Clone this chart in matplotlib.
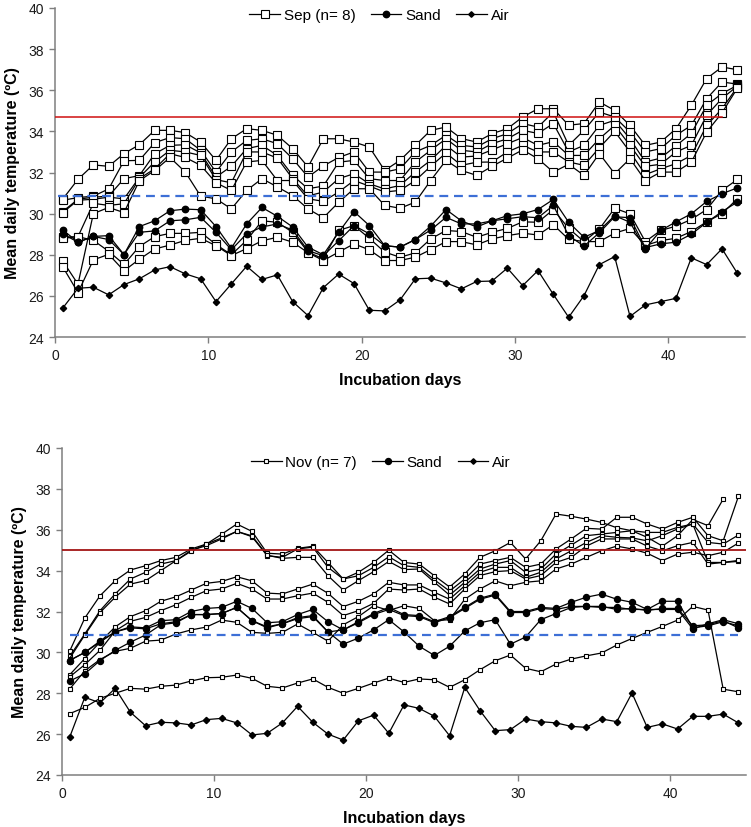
import numpy as np
import matplotlib
matplotlib.use('Agg')
import matplotlib.pyplot as plt
from matplotlib.lines import Line2D

plt.rcParams['font.family'] = ['Liberation Sans', 'DejaVu Sans']

days = np.arange(45) + 0.5

#----------------------------------------------------------------------------------------------------------------------------------
# September clutch (top panel)

sep_nest1 = [30.7, 31.67, 32.37, 32.3, 32.92, 33.35, 34.05, 34.05, 33.94, 33.48, 32.59, 33.64, 34.13, 34.05, 33.81,
             33.16, 32.27, 33.64, 33.64, 33.48, 33.24, 32.1, 32.59, 33.32, 34.05, 34.21, 33.65, 33.48, 33.89, 34.13,
             34.7, 35.1, 35.1, 34.3, 34.38, 35.43, 35.02, 34.29, 33.32, 33.48, 34.13, 35.27, 36.57, 37.13, 37.0]
sep_nest2 = [30.65, 30.78, 30.85, 31.2, 32.57, 32.59, 33.45, 33.7, 33.64, 33.08, 32.02, 33.0, 33.56, 33.64, 33.4,
             32.67, 31.78, 32.32, 32.73, 33.0, 32.02, 32.02, 32.18, 33.0, 33.32, 33.81, 33.32, 33.24, 33.64, 33.89,
             34.38, 34.21, 34.94, 33.32, 34.05, 34.94, 34.7, 33.97, 33.0, 33.16, 33.81, 34.29, 35.59, 36.4, 36.3]
sep_nest3 = [30.1, 30.7, 30.8, 30.85, 31.7, 31.85, 32.91, 33.32, 33.35, 32.95, 31.78, 32.3, 33.16, 33.32, 32.83,
             31.86, 31.21, 31.34, 32.5, 32.59, 31.7, 31.61, 31.61, 32.51, 33.08, 33.64, 33.08, 33.0, 33.4, 33.64,
             34.05, 33.9, 34.38, 33.0, 33.32, 34.29, 34.54, 33.64, 32.51, 32.7, 33.3, 33.9, 35.27, 35.84, 36.24]
sep_nest4 = [30.05, 30.65, 30.7, 30.8, 30.72, 31.76, 32.51, 33.08, 33.0, 32.83, 31.65, 31.5, 33.0, 33.0, 32.7,
             31.7, 30.86, 31.05, 31.7, 31.94, 31.45, 31.2, 31.37, 32.02, 32.59, 33.32, 32.75, 32.8, 33.1, 33.4,
             33.7, 33.32, 33.5, 32.83, 32.83, 33.64, 34.29, 33.32, 32.3, 32.4, 33.0, 33.32, 34.78, 35.6, 36.2]
sep_nest5 = [28.85, 28.88, 30.5, 30.4, 30.48, 31.7, 32.18, 32.91, 32.73, 32.35, 31.5, 31.13, 32.51, 32.59, 31.61,
             31.61, 30.72, 30.6, 31.05, 31.61, 31.34, 31.05, 31.13, 31.61, 32.3, 32.95, 32.35, 32.5, 32.51, 33.0,
             33.32, 33.0, 33.0, 32.51, 32.35, 33.2, 34.0, 33.0, 31.9, 32.18, 32.43, 32.83, 34.29, 35.1, 36.16]
sep_nest6 = [27.7, 26.57, 30.0, 30.3, 30.05, 31.6, 32.1, 32.73, 32.02, 30.85, 30.72, 30.23, 31.13, 31.7, 31.3,
             30.88, 30.23, 29.8, 30.55, 31.21, 31.21, 30.4, 30.26, 30.56, 31.61, 32.59, 32.1, 31.86, 32.3, 32.7,
             33.1, 32.67, 32.02, 32.4, 31.86, 32.92, 31.94, 32.67, 31.61, 32.02, 32.02, 32.5, 33.97, 34.9, 36.1]
sep_nest7 = [28.8, 28.88, 28.7, 28.17, 27.53, 28.4, 28.88, 29.04, 29.04, 29.09, 28.5, 28.0, 28.7, 29.65, 29.58,
             29.09, 28.13, 27.8, 29.18, 29.42, 28.8, 28.13, 27.88, 28.09, 28.77, 29.18, 29.13, 28.85, 29.09, 29.28,
             29.6, 29.58, 30.2, 29.28, 28.64, 29.25, 30.26, 29.99, 28.64, 29.18, 29.39, 29.72, 30.2, 31.13, 31.66]
sep_nest8 = [27.42, 26.16, 27.75, 28.02, 27.22, 27.78, 28.28, 28.47, 28.7, 28.8, 28.44, 27.96, 28.3, 28.68, 28.85,
             28.61, 28.1, 27.72, 28.13, 28.53, 28.24, 27.72, 27.72, 27.88, 28.25, 28.64, 28.64, 28.48, 28.77, 28.93,
             29.05, 28.96, 29.46, 28.75, 28.64, 28.64, 29.05, 29.28, 28.45, 28.69, 28.8, 29.13, 29.6, 30.0, 30.72]

sep_sand1 = [29.21, 28.61, 28.89, 28.93, 28.01, 29.37, 29.65, 30.14, 30.22, 30.19, 29.37, 28.32, 29.5, 30.3, 29.87,
             29.35, 28.37, 28.0, 29.09, 30.1, 29.42, 28.44, 28.37, 28.74, 29.39, 30.2, 29.65, 29.35, 29.65, 29.9,
             29.99, 30.2, 30.69, 29.58, 28.85, 29.18, 29.9, 29.58, 28.28, 29.18, 29.6, 29.99, 30.59, 30.97, 31.25]
sep_sand2 = [29.02, 28.61, 28.89, 28.74, 28.01, 29.09, 29.16, 29.65, 29.7, 29.82, 29.09, 28.24, 29.02, 29.35, 29.5,
             29.2, 28.2, 27.95, 28.68, 29.42, 29.02, 28.44, 28.37, 28.74, 29.2, 29.82, 29.5, 29.5, 29.65, 29.75,
             29.85, 29.8, 30.4, 28.93, 28.42, 29.07, 29.85, 29.8, 28.35, 28.53, 28.61, 29.0, 29.57, 30.1, 30.56]

sep_air = [25.4, 26.37, 26.42, 26.05, 26.55, 26.83, 27.26, 27.42, 27.07, 26.83, 25.72, 26.58, 27.44, 26.8, 27.02,
           25.72, 25.04, 26.4, 27.06, 26.6, 25.3, 25.27, 25.8, 26.83, 26.86, 26.63, 26.34, 26.7, 26.72, 27.35,
           26.5, 27.23, 26.07, 24.96, 26.01, 27.52, 27.91, 25.0, 25.56, 25.72, 25.88, 27.85, 27.52, 28.29, 27.1]

sep_upper = 34.72
sep_lower = 30.88

#----------------------------------------------------------------------------------------------------------------------------------
# November clutch (bottom panel)

nov_nest1 = [30.05, 31.68, 32.77, 33.51, 34.03, 34.24, 34.49, 34.65, 35.06, 35.3, 35.78, 36.28, 35.92, 34.85, 34.81,
             35.09, 35.19, 34.4, 33.59, 33.92, 34.4, 35.0, 34.4, 34.32, 33.75, 33.2, 33.84, 34.65, 34.97, 35.38,
             34.57, 35.46, 36.77, 36.66, 36.52, 36.36, 36.1, 35.95, 35.63, 35.2, 35.71, 36.5, 36.2, 37.5, np.nan]
nov_nest2 = [29.8, 30.9, 32.04, 32.86, 33.59, 33.92, 34.32, 34.49, 35.0, 35.22, 35.55, 35.92, 35.66, 34.73, 34.65,
             35.06, 35.15, 34.16, 33.59, 33.75, 34.16, 34.68, 34.24, 34.16, 33.55, 33.0, 33.59, 34.32, 34.49, 34.65,
             34.16, 34.32, 35.06, 35.55, 36.07, 36.03, 36.61, 36.61, 36.28, 36.03, 36.36, 36.61, 35.71, 35.46, 37.63]
nov_nest3 = [29.7, 30.85, 31.95, 32.7, 33.34, 33.51, 34.0, 34.49, 34.95, 35.3, 35.6, 35.92, 35.7, 34.75, 34.6,
             34.65, 34.65, 33.75, 33.05, 33.51, 33.95, 34.45, 34.05, 34.08, 33.43, 32.8, 33.43, 34.08, 34.32, 34.49,
             33.92, 34.08, 34.81, 35.25, 35.71, 35.79, 35.87, 35.95, 35.87, 35.87, 36.12, 36.28, 35.38, 35.3, 35.74]
nov_nest4 = [28.9, 29.7, 30.5, 31.25, 31.75, 32.04, 32.5, 32.72, 33.05, 33.38, 33.47, 33.7, 33.5, 32.9, 32.86,
             33.1, 33.34, 32.89, 32.24, 32.5, 32.86, 33.43, 33.3, 33.3, 32.94, 32.6, 33.26, 33.92, 34.16, 34.16,
             33.67, 33.92, 34.57, 34.97, 35.38, 35.71, 35.63, 35.6, 35.46, 35.71, 36.04, 36.28, 34.4, 34.4, 34.45]
nov_nest5 = [28.8, 29.4, 30.1, 31.05, 31.52, 31.71, 32.04, 32.33, 32.69, 33.02, 33.1, 33.38, 33.1, 32.61, 32.61,
             32.77, 32.9, 32.45, 31.8, 32.04, 32.4, 33.1, 33.05, 33.1, 32.7, 32.37, 33.1, 33.76, 33.95, 34.0,
             33.59, 33.76, 34.4, 34.65, 35.2, 35.55, 35.55, 35.55, 35.2, 34.97, 35.22, 35.38, 34.32, 34.4, 34.5]
nov_nest6 = [28.2, 29.1, 29.65, 30.05, 30.2, 30.55, 30.6, 30.9, 31.1, 31.24, 31.58, 31.47, 30.98, 30.93, 30.98,
             31.39, 30.98, 30.55, 31.35, 31.75, 32.28, 32.05, 32.28, 32.15, 31.55, 31.6, 32.6, 33.1, 33.5, 33.26,
             33.43, 33.5, 34.08, 34.32, 34.65, 34.97, 35.2, 35.06, 34.85, 34.49, 34.81, 34.9, 34.73, 34.9, 35.35]
nov_nest7 = [27.0, 27.31, 27.75, 28.0, 28.24, 28.2, 28.34, 28.4, 28.6, 28.76, 28.78, 28.89, 28.73, 28.34, 28.26,
             28.5, 28.7, 28.29, 28.0, 28.24, 28.5, 28.74, 28.53, 28.7, 28.66, 28.29, 28.66, 29.15, 29.59, 29.87,
             29.22, 29.05, 29.43, 29.67, 29.83, 29.97, 30.36, 30.68, 30.98, 31.27, 31.58, 32.25, 32.07, 28.2, 28.07]

nov_sand1 = [29.6, 30.0, 30.55, 31.0, 31.25, 31.2, 31.55, 31.6, 32.0, 32.15, 32.2, 32.5, 32.15, 31.45, 31.5,
             31.85, 32.1, 31.5, 31.1, 31.5, 31.9, 32.2, 31.85, 31.8, 31.5, 31.75, 32.2, 32.65, 32.85, 32.0,
             32.0, 32.2, 32.15, 32.45, 32.7, 32.85, 32.6, 32.45, 32.1, 32.5, 32.5, 31.2, 31.3, 31.5, 31.3]
nov_sand2 = [29.6, 30.0, 30.5, 31.0, 31.2, 31.15, 31.4, 31.5, 31.85, 31.85, 31.9, 32.2, 31.55, 31.25, 31.4,
             31.7, 31.8, 31.0, 31.1, 31.45, 31.85, 32.1, 31.8, 31.75, 31.45, 31.7, 32.15, 32.6, 32.8, 31.95,
             31.95, 32.15, 32.1, 32.25, 32.25, 32.25, 32.1, 32.15, 32.05, 32.15, 32.15, 31.3, 31.35, 31.55, 31.2]
nov_sand3 = [28.6, 28.95, 29.6, 30.1, 30.5, 30.85, 31.35, 31.45, 31.85, 31.85, 31.9, 32.2, 31.55, 31.2, 31.4,
             31.65, 31.75, 31.0, 30.4, 30.7, 31.1, 31.6, 31.0, 30.3, 29.85, 30.3, 31.05, 31.45, 31.6, 30.4,
             30.75, 31.6, 31.9, 32.2, 32.25, 32.2, 32.2, 32.1, 32.1, 32.1, 32.1, 31.15, 31.4, 31.6, 31.4]

nov_air = [25.84, 27.8, 27.53, 28.24, 27.07, 26.41, 26.58, 26.55, 26.45, 26.71, 26.77, 26.55, 25.96, 26.04, 26.55,
           27.36, 26.58, 26.0, 25.71, 26.65, 26.93, 26.04, 27.43, 27.26, 26.87, 25.92, 28.29, 27.15, 26.17, 26.22,
           26.74, 26.61, 26.55, 26.38, 26.33, 26.74, 26.61, 28.01, 26.33, 26.5, 26.25, 26.87, 26.87, 26.98, 26.55]

nov_upper = 35.0
nov_lower = 30.86

#----------------------------------------------------------------------------------------------------------------------------------

def draw_panel(ax, nests, sands, air, sq_ms, dot_ms, dia_ms, legend_label, legend_anchor):
    """Draws the nest, sand and air temperature series of one clutch"""
    for nest in nests:
        ax.plot(days, nest, color='black', lw=0.9, marker='s', ms=sq_ms, mfc='white', mec='black', mew=0.8, zorder=3)
    for sand in sands:
        ax.plot(days, sand, color='black', lw=0.9, marker='o', ms=dot_ms, mfc='black', mec='black', zorder=4)
    ax.plot(days, air, color='black', lw=0.9, marker='D', ms=dia_ms, mfc='black', mec='black', zorder=4)

    ax.set_xlim(0, 45)
    ax.set_ylim(24, 40)
    ax.set_xticks([0, 10, 20, 30, 40])
    ax.set_yticks(np.arange(24, 41, 2))
    for side in ['top', 'right']:
        ax.spines[side].set_visible(False)
    for side in ['left', 'bottom']:
        ax.spines[side].set_color('#7f7f7f')
        ax.spines[side].set_linewidth(1.1)
    ax.tick_params(direction='out', length=4, width=1.0, color='#7f7f7f', labelsize=10, labelcolor='#1a1a1a', pad=4)
    ax.set_xlabel('Incubation days', fontsize=11.5, fontweight='bold', labelpad=7)
    ax.set_ylabel('Mean daily temperature (ºC)', fontsize=11.5, fontweight='bold', labelpad=6)

    handles = [Line2D([], [], color='black', lw=0.9, marker='s', ms=sq_ms, mfc='white', mec='black', mew=0.8),
               Line2D([], [], color='black', lw=0.9, marker='o', ms=dot_ms, mfc='black'),
               Line2D([], [], color='black', lw=0.9, marker='D', ms=dia_ms - 0.4, mfc='black')]
    ax.legend(handles, [legend_label, 'Sand', 'Air'], loc='center', bbox_to_anchor=legend_anchor, ncol=3,
              frameon=False, fontsize=11, handlelength=2.0, handletextpad=0.25, columnspacing=1.0)


fig = plt.figure(figsize=(7.51, 8.28), dpi=100)

ax1 = fig.add_axes([55 / 751, 490 / 828, 690 / 751, 329 / 828])
draw_panel(ax1, [sep_nest1, sep_nest2, sep_nest3, sep_nest4, sep_nest5, sep_nest6, sep_nest7, sep_nest8],
           [sep_sand1, sep_sand2], sep_air, 5.2, 4.6, 3.2, 'Sep (n= 8)', (0.47, 0.978))
ax1.plot([0, 43.5], [sep_upper, sep_upper], color='#d01010', lw=1.1, zorder=5)
ax1.plot([0.2, 43.4], [sep_lower, sep_lower], color='#3d6fd6', lw=1.6, ls=(0, (4, 2.6)), zorder=5)

ax2 = fig.add_axes([62 / 751, 52 / 828, 684 / 751, 327 / 828])
draw_panel(ax2, [nov_nest1, nov_nest2, nov_nest3, nov_nest4, nov_nest5, nov_nest6, nov_nest7],
           [nov_sand1, nov_sand2, nov_sand3], nov_air, 3.3, 4.3, 3.2, 'Nov (n= 7)', (0.466, 0.957))
ax2.plot([0, 45], [nov_upper, nov_upper], color='#a31515', lw=1.3, zorder=5)
ax2.plot([0.5, 44.5], [nov_lower, nov_lower], color='#3d6fd6', lw=1.6, ls=(0, (4, 2.6)), zorder=5)

fig.savefig('out.png', dpi=100)
